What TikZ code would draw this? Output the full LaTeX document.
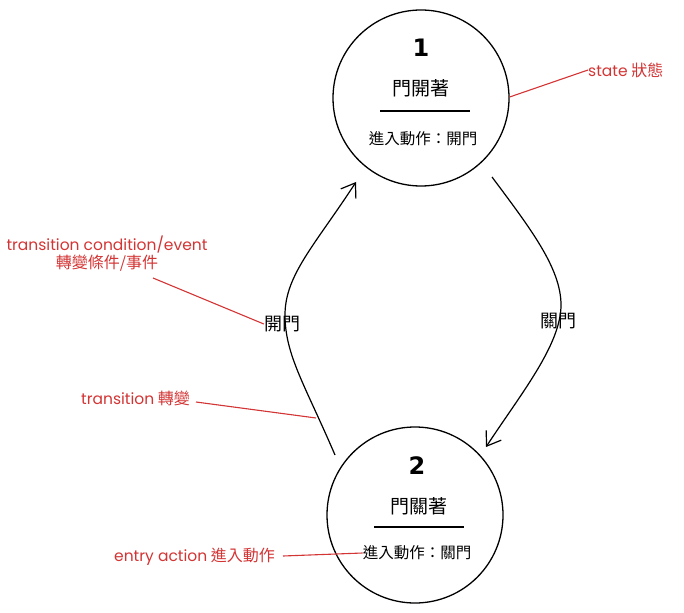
\documentclass[tikz,border=0pt]{standalone}
\usepackage{fontspec}
\setmainfont{Noto Sans CJK TC}
\newfontfamily\latinred{Poppins}
\newfontfamily\numfont{DejaVu Sans}
\newcommand{\lt}[1]{{\latinred\fontsize{15.5}{17}\selectfont #1}}
\usetikzlibrary{arrows.meta,calc}
\definecolor{annred}{HTML}{D33434}
\begin{document}
\begin{tikzpicture}[x=1pt,y=-1pt,
  statecirc/.style={circle, draw=black, line width=1.3pt, minimum size=176pt, inner sep=0pt},
  numtxt/.style={font=\numfont\bfseries\fontsize{24}{24}\selectfont},
  nametxt/.style={font=\fontsize{19}{19}\selectfont, inner sep=0pt},
  acttxt/.style={font=\fontsize{15.5}{15.5}\selectfont, inner sep=0pt},
  edgetxt/.style={font=\fontsize{18}{18}\selectfont, inner sep=0pt},
  anntxt/.style={text=annred, font=\fontsize{16}{20}\selectfont, inner sep=0pt, align=center},
  annline/.style={draw=annred, line width=1.1pt},
  trans/.style={draw=black, line width=1.2pt, -{Straight Barb[length=13pt,width=18pt,line width=1.2pt]}},
  divider/.style={draw=black, line width=1.3pt}
]
\useasboundingbox (0,0) rectangle (684,612);

% states
\node[statecirc] (s1) at (421,98) {};
\node[numtxt] (n1) at (421,48) {1};
\node[nametxt] (name1) at (421,88) {門開著};
\draw[divider] (380,111) -- (470,111);
\node[acttxt] (act1) at (423,139) {進入動作：開門};

\node[statecirc] (s2) at (415,515) {};
\node[numtxt] (n2) at (417,466) {2};
\node[nametxt] (name2) at (419,506) {門關著};
\draw[divider] (374,527) -- (464,527);
\node[acttxt] (act2) at (417,553) {進入動作：關門};

% transitions
\coordinate (l0) at (335,455);
\coordinate (l1) at (285,315);
\coordinate (l2) at (356,182);
\draw[trans] (l0) .. controls (305,385) and (285,355) .. (l1)
  .. controls (285,275) and (315,245) .. (l2);
\node[edgetxt] (lab1) at (282,324) {開門};

\coordinate (r0) at (492,177);
\coordinate (r1) at (561,305);
\coordinate (r2) at (486,447);
\draw[trans] (r0) .. controls (530,228) and (561,268) .. (r1)
  .. controls (561,345) and (520,395) .. (r2);
\node[edgetxt] (lab2) at (558,321) {關門};

% annotations
\node[anntxt, anchor=west] (astate) at (588,70) {\lt{state} 狀態};
\draw[annline] (s1.east) ++(0,-1) coordinate (sa) -- (astate.west);

\node[anntxt] (acond) at (107,254) {\lt{transition condition/event}\\[-2pt]轉變條件/事件};
\coordinate (ca) at (153,278);
\draw[annline] (ca) -- (lab1.west);

\node[anntxt, anchor=east] (atrans) at (190,398) {\lt{transition} 轉變};
\coordinate (ta) at (196,402);
\coordinate (tb) at (316,418);
\draw[annline] (ta) -- (tb);

\node[anntxt, anchor=east] (aentry) at (275,557) {\lt{entry action} 進入動作};
\coordinate (ea) at (283,556);
\draw[annline] (ea) -- (act2.west);
\end{tikzpicture}
\end{document}
